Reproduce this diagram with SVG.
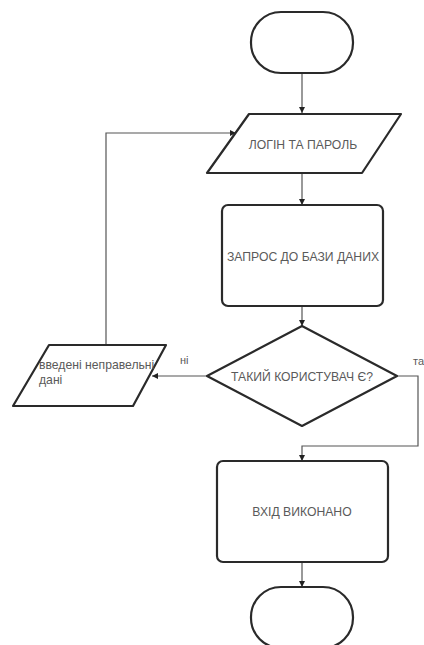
<svg xmlns="http://www.w3.org/2000/svg" width="424" height="645" viewBox="0 0 424 645">
<defs>
<marker id="arr" viewBox="0 0 10 10" refX="10" refY="5" markerWidth="6" markerHeight="6" orient="auto" markerUnits="userSpaceOnUse">
<path d="M0,0 L10,5 L0,10 z" fill="#222"/>
</marker>
<style>
.shape{fill:#fff;stroke:#2a2a2a;stroke-width:2.2;stroke-linejoin:round}
.conn{fill:none;stroke:#555;stroke-width:1.2}
.t{font-family:"Liberation Sans",Arial,sans-serif;font-size:12.2px;fill:#5a5a5a;text-anchor:middle}
.tl{font-family:"Liberation Sans",Arial,sans-serif;font-size:12.2px;fill:#5a5a5a}
.lb{font-family:"Liberation Sans",Arial,sans-serif;font-size:11px;fill:#5a5a5a}
</style>
</defs>
<rect width="424" height="645" fill="#fff"/>
<g id="connectors">
<path class="conn" d="M302,73 V113" marker-end="url(#arr)"/>
<path class="conn" d="M302,173 V205" marker-end="url(#arr)"/>
<path class="conn" d="M302,306 V326" marker-end="url(#arr)"/>
<path class="conn" d="M207,376 H152" marker-end="url(#arr)"/>
<path class="conn" d="M106,345 V133 H236" marker-end="url(#arr)"/>
<path class="conn" d="M397,376 H418 V446 H302 V461" marker-end="url(#arr)"/>
<path class="conn" d="M302,562 V587" marker-end="url(#arr)"/>
<text class="lb" x="180" y="364">ні</text>
<text class="lb" x="413" y="365">та</text>
</g>
<g id="start">
<rect class="shape" x="251" y="12" width="102" height="61" rx="30" ry="30"/>
</g>
<g id="input">
<path class="shape" d="M249,114 H401 L362,173 H207 Z"/>
<text class="t" x="303" y="149">ЛОГІН ТА ПАРОЛЬ</text>
</g>
<g id="query">
<rect class="shape" x="222" y="205" width="161" height="101" rx="6"/>
<text class="t" x="303" y="261">ЗАПРОС ДО БАЗИ ДАНИХ</text>
</g>
<g id="decision">
<path class="shape" d="M302,326 L397,376 L302,426 L207,376 Z"/>
<text class="t" x="302" y="381">ТАКИЙ КОРИСТУВАЧ Є?</text>
</g>
<g id="error">
<path class="shape" d="M49,345 H166 L133,406 H13 Z"/>
<text class="tl" x="39" y="369">введені неправельні</text>
<text class="tl" x="39" y="384">дані</text>
</g>
<g id="success">
<rect class="shape" x="217" y="461" width="171" height="101" rx="6"/>
<text class="t" x="302" y="516">ВХІД ВИКОНАНО</text>
</g>
<g id="end">
<rect class="shape" x="251" y="587" width="102" height="61" rx="30" ry="30"/>
</g>
</svg>
